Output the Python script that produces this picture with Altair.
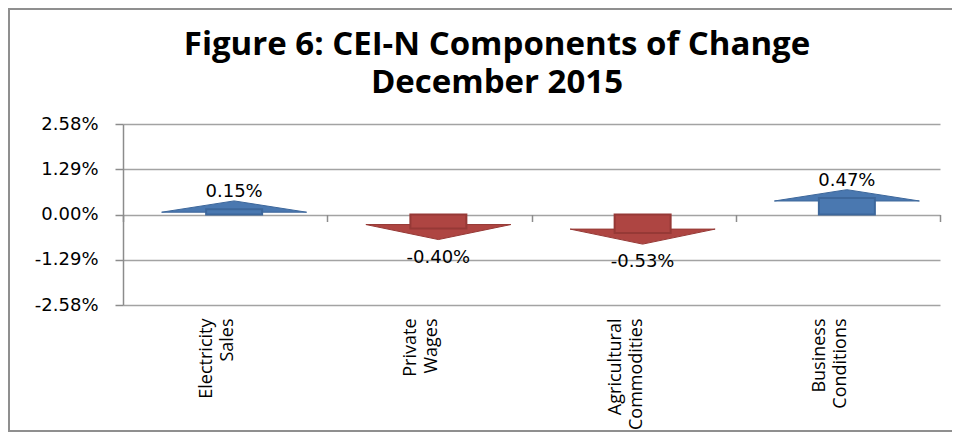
import altair as alt
import pandas as pd

# ---- data ----
categories = ["Electricity Sales", "Private Wages", "Agricultural Commodities", "Business Conditions"]
values = [0.15, -0.40, -0.53, 0.47]
y_ticks = [-2.58, -1.29, 0.0, 1.29, 2.58]
title_lines = ["Figure 6: CEI-N Components of Change", "December 2015"]

df = pd.DataFrame({"component": categories, "change": values})

W, H = 817, 181
PAD = {"left": 115, "top": 116, "right": 12, "bottom": 127}

GRID = "#a3a3a3"
AXIS = "#8c8c8c"
TICK_FONT = "DejaVu Sans"
CAT_FONT = "Open Sans"

up_path = "M-1,0.041L1,0.041L0,-0.115Z"
down_path = "M-1,-0.055L1,-0.055L0,0.152Z"

pct_expr = "(datum.value < 0 ? '-' : '') + format(abs(datum.value), '.2f') + '%'"

base = alt.Chart(df).transform_calculate(
    direction="datum.change >= 0 ? 'up' : 'down'",
    label="(datum.change < 0 ? '-' : '') + format(abs(datum.change), '.2f') + '%'",
)

x_scale = alt.Scale(domain=categories, paddingInner=0, paddingOuter=0)
y_scale = alt.Scale(domain=[-2.58, 2.58], nice=False, zero=False)

y_axis = alt.Axis(
    values=y_ticks, labelExpr=pct_expr, title=None,
    grid=True, gridColor=GRID, gridWidth=1.5,
    domainColor=AXIS, domainWidth=1.5,
    tickColor=AXIS, tickWidth=1.5, tickSize=8,
    labelPadding=17, labelFont=TICK_FONT, labelFontSize=18, labelColor="#000000",
)

label_axis = alt.Axis(
    title=None, orient="bottom", domain=False, ticks=False, grid=False,
    labelAngle=-90, labelAlign="right", labelBaseline="middle",
    labelPadding=13, labelOffset=-18, labelFont=CAT_FONT, labelFontSize=18, labelColor="#000000",
    labelLineHeight=21, labelExpr="split(datum.label, ' ')",
)

tick_axis = alt.Axis(
    title=None, orient="bottom", offset=-H / 2, domain=False, labels=False, grid=False,
    ticks=True, tickBand="extent", tickSize=7, tickColor=AXIS, tickWidth=1.5,
)

heads = base.mark_point(filled=True, size=21025, opacity=1, strokeWidth=1, xOffset=9).encode(
    x=alt.X("component:N", scale=x_scale, axis=tick_axis),
    y=alt.Y("change:Q", scale=y_scale, axis=None),
    shape=alt.Shape("direction:N", scale=alt.Scale(domain=["up", "down"], range=[up_path, down_path]), legend=None),
    fill=alt.Fill("direction:N", scale=alt.Scale(domain=["up", "down"], range=["#4A78B0", "#AE4542"]), legend=None),
    stroke=alt.Stroke("direction:N", scale=alt.Scale(domain=["up", "down"], range=["#3D679B", "#963936"]), legend=None),
)

bodies = base.mark_bar(size=56, strokeWidth=2, xOffset=9).encode(
    x=alt.X("component:N", scale=x_scale, axis=label_axis),
    y=alt.Y("change:Q", scale=y_scale, axis=y_axis),
    y2=alt.datum(0),
    fill=alt.Fill("direction:N", scale=alt.Scale(domain=["up", "down"], range=["#4F81BD", "#C0504D"]), legend=None),
    stroke=alt.Stroke("direction:N", scale=alt.Scale(domain=["up", "down"], range=["#2F5A8C", "#8C3432"]), legend=None),
)

pos_labels = base.transform_filter("datum.change >= 0").mark_text(
    font=TICK_FONT, fontSize=18, color="#000000", baseline="middle", dy=-17, xOffset=9,
).encode(
    x=alt.X("component:N", scale=x_scale, axis=None),
    y=alt.Y("change:Q", scale=y_scale, axis=None),
    text="label:N",
)

neg_labels = base.transform_filter("datum.change < 0").mark_text(
    font=TICK_FONT, fontSize=18, color="#000000", baseline="middle", dy=29, xOffset=9,
).encode(
    x=alt.X("component:N", scale=x_scale, axis=None),
    y=alt.Y("change:Q", scale=y_scale, axis=None),
    text="label:N",
)

frame = alt.Chart(alt.Data(values=[{"f": 1}])).mark_rect(
    fill="transparent", stroke="#8f8f8f", strokeWidth=2
).encode(
    x=alt.value(-PAD["left"] + 1),
    x2=alt.value(W + PAD["right"] + 40),
    y=alt.value(-PAD["top"] + 1),
    y2=alt.value(H + PAD["bottom"] - 1),
)

title_style = dict(font=CAT_FONT, fontSize=33, fontWeight="bold", color="#000000",
                   align="center", baseline="alphabetic")

title1 = alt.Chart(alt.Data(values=[{"f": 1}])).mark_text(**title_style).encode(
    x=alt.value(374), y=alt.value(-69), text=alt.value(title_lines[0]),
)
title2 = alt.Chart(alt.Data(values=[{"f": 1}])).mark_text(**title_style).encode(
    x=alt.value(374), y=alt.value(-31), text=alt.value(title_lines[1]),
)

chart = alt.layer(frame, title1, title2, heads, bodies, pos_labels, neg_labels).resolve_axis(
    x="independent", y="independent"
).properties(
    width=W, height=H,
    padding=PAD,
    autosize=alt.AutoSizeParams(type="none"),
).configure(background="#ffffff").configure_view(stroke=None)

chart.save("out.html", embed_options={"renderer": "svg", "actions": False})
